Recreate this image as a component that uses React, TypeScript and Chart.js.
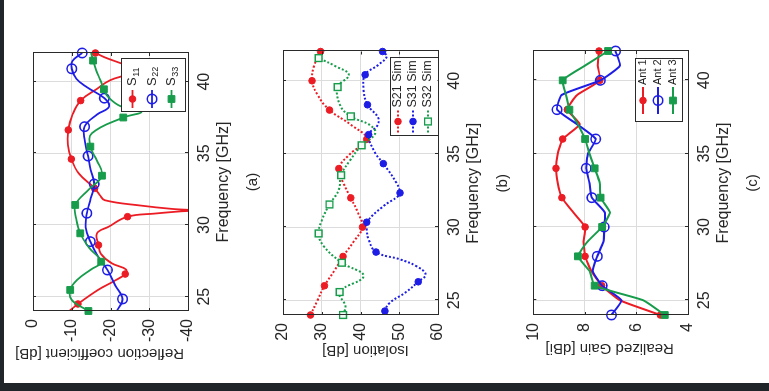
import React, { useEffect, useRef } from "react";
import { Chart, registerables } from "chart.js";

Chart.register(...registerables);

const FONT = '"Liberation Sans", Arial, Helvetica, sans-serif';
const TEXT = "#262626";
const GRID = "#dcdcdc";
const BOX = "#2a2a2a";
const RED = "#ec1c24";
const BLUE = "#1d1de6";
const GREEN = "#179c4b";
const DARK = "#20252a";

const FREQ_MIN = 24;
const FREQ_MAX = 42;
const FREQ_TICKS = [25, 30, 35, 40];

// ---------- (a) Reflection coefficient ----------
const A_TICKS = [-40, -30, -20, -10, 0];
const S11_F = [24.0, 24.49, 25.47, 26.1, 26.58, 26.9, 27.33, 28.0, 28.6, 29.42, 29.88, 30.58, 30.8, 30.95, 31.02, 31.12, 31.35, 31.73, 32.1, 32.56, 33.6, 34.6, 35.6, 36.63, 37.7, 38.68, 39.5, 40.1, 40.6, 41.0, 41.3, 41.7, 42.0];
const S11_V = [-9.4, -11.6, -16.8, -21.0, -23.8, -24.0, -20.3, -17.5, -16.9, -16.5, -19.5, -24.4, -31.5, -38, -42, -36, -28, -18.5, -17.2, -15.9, -11.8, -9.9, -9.0, -9.1, -10.2, -12.3, -16.5, -19.9, -25, -25.5, -22.5, -18.5, -16.1];
const S11_MF = [24.49, 26.58, 28.6, 30.58, 32.56, 34.6, 36.63, 38.68, 42.0];
const S11_MV = [-11.6, -23.8, -16.9, -24.4, -15.9, -9.9, -9.1, -12.3, -16.1];

const S22_F = [24.0, 24.84, 25.8, 26.86, 27.8, 28.84, 29.85, 30.82, 31.85, 32.86, 33.85, 34.81, 35.85, 36.86, 37.7, 38.25, 38.85, 39.6, 40.2, 40.9, 41.45, 42.0];
const S22_V = [-21.6, -23.1, -21.2, -19.2, -16.8, -14.8, -13.6, -13.9, -14.9, -15.8, -14.9, -14.2, -13.4, -13.3, -16.5, -19.6, -18.4, -14.0, -11.2, -10.0, -10.2, -12.7];
const S22_MF = [24.84, 26.86, 28.84, 30.82, 32.86, 34.81, 36.86, 38.85, 40.9, 42.0];
const S22_MV = [-23.1, -19.2, -14.8, -13.9, -15.8, -14.2, -13.3, -18.4, -10.0, -12.7];

const S33_F = [24.0, 24.77, 25.47, 26.2, 26.9, 27.44, 28.4, 29.42, 30.4, 31.4, 32.5, 33.44, 34.5, 35.47, 36.4, 37.5, 37.9, 38.3, 38.9, 39.47, 40.1, 40.8, 41.47, 42.0];
const S33_V = [-14.3, -10.0, -9.6, -11.5, -15.0, -17.6, -14.5, -12.2, -11.2, -10.9, -14.5, -17.8, -16.5, -14.8, -15.2, -23.3, -28.0, -22.5, -19.5, -18.3, -17.4, -16.3, -15.5, -15.0];
const S33_MF = [24.0, 25.47, 27.44, 29.42, 31.4, 33.44, 35.47, 37.5, 39.47, 41.47];
const S33_MV = [-14.3, -9.6, -17.6, -12.2, -10.9, -17.8, -14.8, -23.3, -18.3, -15.5];

// ---------- (b) Isolation ----------
const B_TICKS = [20, 30, 40, 50, 60];
const S21_F = [24, 25, 26, 27, 28, 29, 30, 31, 32, 33, 34, 35, 36, 37, 38, 39, 40, 41, 42];
const S21_V = [27.1, 28.9, 30.7, 33.2, 35.5, 38.2, 40.5, 39.3, 37.5, 35.6, 34.4, 37.3, 41.6, 37.5, 32.0, 29.0, 27.5, 28.0, 29.7];
const S21_MF = [24, 26, 28, 30, 32, 34, 36, 38, 40, 42];
const S21_MV = [27.1, 30.7, 35.5, 40.5, 37.5, 34.4, 41.6, 32.0, 27.5, 29.7];

const S31_F = [24.0, 24.27, 24.84, 25.52, 26.27, 26.77, 27.34, 27.8, 28.3, 29.16, 29.84, 30.34, 31.43, 32.11, 32.34, 33.02, 34.34, 35.07, 36.32, 36.89, 37.45, 38.36, 39.39, 40.41, 41.09, 41.66, 42.0];
const S31_V = [46.7, 46.3, 47.6, 51.5, 54.9, 56.8, 54.4, 50.2, 44.0, 42.1, 41.6, 41.6, 45.9, 49.7, 50.2, 49.3, 45.9, 43.8, 42.1, 44.2, 44.6, 41.8, 40.8, 41.2, 44.6, 46.8, 45.7];
const S31_MF = [24.27, 26.27, 28.3, 30.34, 32.34, 34.34, 36.32, 38.36, 40.41, 42.0];
const S31_MV = [46.3, 54.9, 44.0, 41.6, 50.2, 45.9, 42.1, 41.8, 41.2, 45.7];

const S32_F = [24.0, 24.61, 25.57, 26.66, 27.57, 28.7, 29.57, 30.52, 31.55, 32.55, 33.55, 34.6, 35.59, 36.4, 36.96, 37.57, 38.3, 39.57, 40.4, 41.0, 41.55];
const S32_V = [35.5, 36.1, 34.6, 40.8, 35.2, 30.5, 29.2, 30.1, 32.0, 34.4, 35.0, 37.4, 40.3, 43.8, 42.5, 37.5, 34.8, 34.1, 37.0, 33.5, 29.2];
const S32_MF = [24.0, 25.57, 27.57, 29.57, 31.55, 33.55, 35.59, 37.57, 39.57, 41.55];
const S32_MV = [35.5, 34.6, 35.2, 29.2, 32.0, 35.0, 40.3, 37.5, 34.1, 29.2];

// ---------- (c) Realized gain ----------
const C_TICKS = [4, 6, 8, 10];
const GAIN_F = [24, 25, 26, 27, 28, 29, 30, 31, 32, 33, 34, 35, 36, 37, 38, 39, 40, 41, 42];
const ANT1 = [5.07, 6.64, 7.35, 7.75, 7.99, 8.05, 7.99, 8.45, 8.89, 9.05, 9.12, 9.05, 8.86, 8.2, 8.68, 8.3, 7.42, 7.5, 7.45];
const ANT2 = [6.97, 6.58, 7.33, 7.69, 7.52, 7.28, 7.25, 7.23, 7.73, 7.82, 7.95, 7.88, 7.58, 8.3, 9.08, 8.9, 7.4, 6.64, 6.81];
const ANT3 = [4.9, 5.73, 7.62, 7.82, 8.27, 7.9, 7.33, 7.03, 7.39, 7.42, 7.62, 7.82, 7.99, 8.27, 8.6, 8.73, 8.86, 8.0, 7.1];
const GAIN_MF = [24, 26, 28, 30, 32, 34, 36, 38, 40, 42];
const ANT1_M = [5.07, 7.35, 7.99, 7.99, 8.89, 9.12, 8.86, 8.68, 7.42, 7.45];
const ANT2_M = [6.97, 7.33, 7.52, 7.25, 7.73, 7.95, 7.58, 9.08, 7.4, 6.81];
const ANT3_M = [4.9, 7.62, 8.27, 7.33, 7.39, 7.62, 7.99, 8.6, 8.86, 7.1];

type Marker = "dot" | "circle" | "square" | "squareOpen";
type Series = {
  F: number[]; V: number[]; MF: number[]; MV: number[];
  color: string; marker: Marker; dash?: number[]; label: string; sub?: string;
};
type LegendSpec = {
  insetRight: number; insetBottom: number; w: number; h: number;
  first: number; step: number; l0: number; l1: number; tx: number; font: number; subFont?: number;
};
type Panel = {
  id: string; ticks: number[]; min: number; max: number; reverse: boolean;
  yTitle: string; caption: string; series: Series[];
  left: number; right: number; top: number; yTitleCenter: number; yTitleShift: number;
  tension: number; lineWidth: number; legend: LegendSpec;
};

const W = 383;
const H = 265;
const BOTTOM = 184;

const PANELS: Panel[] = [
  {
    id: "a", ticks: A_TICKS, min: -40, max: 0, reverse: false,
    yTitle: "Reflection coefficient [dB]", caption: "(a)",
    left: 72, right: 330, top: 29, yTitleCenter: 30, yTitleShift: -11, tension: 0.4, lineWidth: 1.8,
    legend: { insetRight: 6, insetBottom: 3, w: 53, h: 64, first: 11.5, step: 19.5, l0: 4, l1: 22, tx: 26, font: 13, subFont: 9 },
    series: [
      { F: S11_F, V: S11_V, MF: S11_MF, MV: S11_MV, color: RED, marker: "dot", label: "S", sub: "11" },
      { F: S22_F, V: S22_V, MF: S22_MF, MV: S22_MV, color: BLUE, marker: "circle", label: "S", sub: "22" },
      { F: S33_F, V: S33_V, MF: S33_MF, MV: S33_MV, color: GREEN, marker: "square", label: "S", sub: "33" },
    ],
  },
  {
    id: "b", ticks: B_TICKS, min: 20, max: 60, reverse: true,
    yTitle: "Isolation [dB]", caption: "(b)",
    left: 68, right: 331.5, top: 29, yTitleCenter: 33, yTitleShift: 5, tension: 0.4, lineWidth: 2,
    legend: { insetRight: 7, insetBottom: 0.5, w: 78, h: 48, first: 8.5, step: 15, l0: 4, l1: 26, tx: 29, font: 12.5 },
    series: [
      { F: S21_F, V: S21_V, MF: S21_MF, MV: S21_MV, color: RED, marker: "dot", dash: [2, 2], label: "S21 Sim" },
      { F: S31_F, V: S31_V, MF: S31_MF, MV: S31_MV, color: BLUE, marker: "dot", dash: [2, 2], label: "S31 Sim" },
      { F: S32_F, V: S32_V, MF: S32_MF, MV: S32_MV, color: GREEN, marker: "squareOpen", dash: [2, 2], label: "S32 Sim" },
    ],
  },
  {
    id: "c", ticks: C_TICKS, min: 4, max: 10, reverse: false,
    yTitle: "Realized Gain [dBi]", caption: "(c)",
    left: 68, right: 332, top: 29.3, yTitleCenter: 34.5, yTitleShift: -1, tension: 0.15, lineWidth: 2,
    legend: { insetRight: 8, insetBottom: 6, w: 63, h: 47, first: 8, step: 15, l0: 8, l1: 35, tx: 37, font: 11 },
    series: [
      { F: GAIN_F, V: ANT1, MF: GAIN_MF, MV: ANT1_M, color: RED, marker: "dot", label: "Ant 1" },
      { F: GAIN_F, V: ANT2, MF: GAIN_MF, MV: ANT2_M, color: BLUE, marker: "circle", label: "Ant 2" },
      { F: GAIN_F, V: ANT3, MF: GAIN_MF, MV: ANT3_M, color: GREEN, marker: "square", label: "Ant 3" },
    ],
  },
];

function markerStyle(m: Marker, color: string) {
  switch (m) {
    case "dot": return { pointStyle: "circle", pointRadius: 3.3, pointBackgroundColor: color, pointBorderColor: color, pointBorderWidth: 1 };
    case "circle": return { pointStyle: "circle", pointRadius: 4.7, pointBackgroundColor: "rgba(0,0,0,0)", pointBorderColor: color, pointBorderWidth: 1.6 };
    case "square": return { pointStyle: "rect", pointRadius: 4.8, pointBackgroundColor: color, pointBorderColor: color, pointBorderWidth: 1 };
    default: return { pointStyle: "rect", pointRadius: 4.8, pointBackgroundColor: "#f4fbf6", pointBorderColor: color, pointBorderWidth: 1.4 };
  }
}

function drawMarker(ctx: CanvasRenderingContext2D, m: Marker, color: string, x: number, y: number) {
  const s = markerStyle(m, color);
  ctx.save();
  ctx.setLineDash([]);
  ctx.lineWidth = s.pointBorderWidth;
  ctx.strokeStyle = s.pointBorderColor;
  ctx.fillStyle = s.pointBackgroundColor;
  ctx.beginPath();
  if (s.pointStyle === "circle") {
    ctx.arc(x, y, s.pointRadius, 0, Math.PI * 2);
  } else {
    const h = s.pointRadius * Math.SQRT1_2;
    ctx.rect(x - h, y - h, 2 * h, 2 * h);
  }
  ctx.fill();
  ctx.stroke();
  ctx.restore();
}

function buildConfig(p: Panel): any {
  const datasets: any[] = [];
  p.series.forEach((s) => {
    datasets.push({
      data: s.F.map((x, i) => ({ x, y: s.V[i] })),
      borderColor: s.color,
      borderWidth: p.lineWidth,
      borderDash: s.dash || [],
      borderCapStyle: "butt",
      pointRadius: 0,
      tension: p.tension,
      fill: false,
    });
    datasets.push({
      data: s.MF.map((x, i) => ({ x, y: s.MV[i] })),
      showLine: false,
      clip: false,
      ...markerStyle(s.marker, s.color),
    });
  });
  datasets.reverse();

  const tickFont = { family: FONT, size: 16 };

  const framePlugin = {
    id: "frame_" + p.id,
    afterDatasetsDraw(chart: any) {
      const { ctx, chartArea: a, scales } = chart;
      ctx.save();
      ctx.strokeStyle = BOX;
      ctx.lineWidth = 1;
      const tl = 3;
      FREQ_TICKS.forEach((v) => {
        const px = Math.round(scales.x.getPixelForValue(v)) + 0.5;
        ctx.beginPath();
        ctx.moveTo(px, a.bottom); ctx.lineTo(px, a.bottom - tl);
        ctx.moveTo(px, a.top); ctx.lineTo(px, a.top + tl);
        ctx.stroke();
      });
      p.ticks.forEach((v) => {
        const py = Math.round(scales.y.getPixelForValue(v)) + 0.5;
        ctx.beginPath();
        ctx.moveTo(a.left, py); ctx.lineTo(a.left + tl, py);
        ctx.moveTo(a.right, py); ctx.lineTo(a.right - tl, py);
        ctx.stroke();
      });
      ctx.strokeRect(Math.round(a.left) + 0.5, Math.round(a.top) + 0.5, Math.round(a.right - a.left), Math.round(a.bottom - a.top));

      const lg = p.legend;
      const x1 = a.right - lg.insetRight;
      const x0 = x1 - lg.w;
      const y1 = a.bottom - lg.insetBottom;
      const y0 = y1 - lg.h;
      ctx.fillStyle = "#ffffff";
      ctx.fillRect(x0, y0, lg.w, lg.h);
      ctx.strokeStyle = BOX;
      ctx.lineWidth = 1;
      ctx.strokeRect(Math.round(x0) + 0.5, Math.round(y0) + 0.5, Math.round(lg.w), Math.round(lg.h));
      p.series.forEach((s, i) => {
        const y = y0 + lg.first + i * lg.step;
        ctx.save();
        ctx.strokeStyle = s.color;
        ctx.lineWidth = p.lineWidth;
        ctx.lineCap = "butt";
        ctx.setLineDash(s.dash || []);
        ctx.beginPath();
        ctx.moveTo(x0 + lg.l0, y);
        ctx.lineTo(x0 + lg.l1, y);
        ctx.stroke();
        ctx.restore();
        drawMarker(ctx, s.marker, s.color, x0 + (lg.l0 + lg.l1) / 2, y);
        ctx.fillStyle = TEXT;
        ctx.textAlign = "left";
        ctx.textBaseline = "middle";
        ctx.font = `${lg.font}px ${FONT}`;
        ctx.fillText(s.label, x0 + lg.tx, y);
        if (s.sub) {
          const w = ctx.measureText(s.label).width;
          ctx.font = `${lg.subFont || 9}px ${FONT}`;
          ctx.fillText(s.sub, x0 + lg.tx + w + 0.5, y + 4);
        }
      });
      ctx.restore();
    },
    afterDraw(chart: any) {
      const { ctx, chartArea: a } = chart;
      ctx.save();
      ctx.fillStyle = TEXT;
      ctx.textAlign = "center";
      ctx.textBaseline = "middle";
      // caption under the x-axis title
      ctx.font = `15px ${FONT}`;
      ctx.fillText(p.caption, (a.left + a.right) / 2, 248.5);
      // y-axis title (vertical)
      ctx.translate(p.yTitleCenter, (a.top + a.bottom) / 2 + p.yTitleShift);
      ctx.rotate(-Math.PI / 2);
      ctx.font = `15px ${FONT}`;
      ctx.fillText(p.yTitle, 0, 0);
      ctx.restore();
    },
  };

  return {
    type: "line",
    data: { datasets },
    options: {
      animation: false,
      responsive: false,
      devicePixelRatio: 1,
      events: [],
      layout: { padding: { left: 0, right: W - p.right, top: p.top, bottom: 0 } },
      plugins: { legend: { display: false }, tooltip: { enabled: false }, title: { display: false } },
      scales: {
        x: {
          type: "linear",
          min: FREQ_MIN,
          max: FREQ_MAX,
          afterBuildTicks: (s: any) => { s.ticks = FREQ_TICKS.map((v) => ({ value: v })); },
          afterFit: (s: any) => { s.height = H - BOTTOM; },
          grid: { color: GRID, lineWidth: 1, drawTicks: false },
          border: { display: false },
          ticks: { font: tickFont, color: TEXT, padding: 7, maxRotation: 0, autoSkip: false },
          title: { display: true, text: "Frequency [GHz]", font: { family: FONT, size: 16 }, color: TEXT, padding: { top: 0, bottom: 35.4 } },
        },
        y: {
          type: "linear",
          min: p.min,
          max: p.max,
          reverse: p.reverse,
          afterBuildTicks: (s: any) => { s.ticks = p.ticks.map((v) => ({ value: v })); },
          afterFit: (s: any) => { s.width = p.left; },
          grid: { color: GRID, lineWidth: 1, drawTicks: false },
          border: { display: false },
          ticks: { font: tickFont, color: TEXT, padding: 8, autoSkip: false },
          title: { display: false },
        },
      },
    },
    plugins: [framePlugin],
  };
}

function PanelChart({ panel, top }: { panel: Panel; top: number }) {
  const ref = useRef<HTMLCanvasElement>(null);
  useEffect(() => {
    if (!ref.current) return;
    const chart = new Chart(ref.current, buildConfig(panel));
    return () => chart.destroy();
  }, [panel]);
  return (
    <canvas
      ref={ref}
      width={W}
      height={H}
      style={{ position: "absolute", left: 0, top, width: W, height: H }}
    />
  );
}

export default function App() {
  return (
    <div style={{ position: "fixed", left: 0, top: 0, width: 769, height: 391, background: DARK, overflow: "hidden" }}>
      <div style={{ position: "absolute", left: 4, top: 0, width: 765, height: 383, background: "#ffffff" }} />
      <div
        style={{
          position: "absolute",
          left: 195,
          top: -191,
          width: 383,
          height: 765,
          transform: "rotate(-90deg)",
          transformOrigin: "50% 50%",
        }}
      >
        {PANELS.map((p, i) => (
          <PanelChart key={p.id} panel={p} top={i * 250} />
        ))}
      </div>
    </div>
  );
}
